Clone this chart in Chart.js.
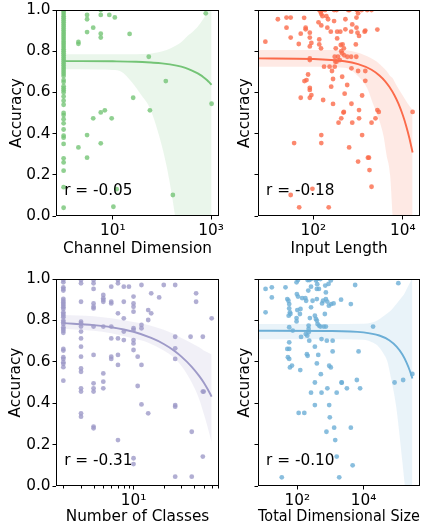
<!DOCTYPE html>
<html lang="en">
<head>
<meta charset="UTF-8" />
<title>Accuracy vs dataset properties</title>
<script src="https://cdn.jsdelivr.net/npm/chart.js"></script>
<style>
  body { margin: 0; background: #fff; }
  #fig { position: relative; width: 426px; height: 524px; background: #fff; }
  canvas { position: absolute; }
</style>
</head>
<body>
<div id="fig">
  <canvas id="c1" width="224" height="262" style="left:0;top:0;width:224px;height:262px"></canvas>
  <canvas id="c2" width="202" height="262" style="left:224px;top:0;width:202px;height:262px"></canvas>
  <canvas id="c3" width="224" height="262" style="left:0;top:262px;width:224px;height:262px"></canvas>
  <canvas id="c4" width="202" height="262" style="left:224px;top:262px;width:202px;height:262px"></canvas>
</div>
<script>
// ---- data ----
const yTicks = [0, 0.2, 0.4, 0.6, 0.8, 1.0];

// Channel Dimension
const channelPts = [
  [1,1.0],[1,0.99],[1,0.98],[1,0.97],[1,0.96],[1,0.95],[1,0.94],[1,0.93],[1,0.92],[1,0.91],[1,0.90],
  [1,0.89],[1,0.88],[1,0.87],[1,0.86],[1,0.85],[1,0.84],[1,0.83],[1,0.82],[1,0.81],[1,0.80],[1,0.79],
  [1,0.78],[1,0.77],[1,0.76],[1,0.75],[1,0.74],[1,0.73],[1,0.72],[1,0.71],[1,0.70],[1,0.69],[1,0.68],
  [1,0.66],[1,0.65],[1,0.63],[1,0.62],[1,0.61],[1,0.60],[1,0.58],[1,0.56],[1,0.54],[1,0.50],[1,0.49],
  [1,0.47],[1,0.45],[1,0.42],[1,0.39],[1,0.38],[1,0.35],[1,0.28],[1,0.26],[1,0.22],[1,0.14],[1,0.04],
  [3,0.976],[3,0.955],[4,0.914],[3,0.893],[2,0.845],[2,0.836],[5.7,1.0],[5.7,0.976],[8.5,0.976],
  [11,0.964],[5.7,0.885],[5.7,0.866],[22,0.884],[54,0.773],[120,0.655],[26,0.574],[57,0.513],
  [4,0.474],[5.7,0.503],[6.9,0.513],[9.5,0.474],[3,0.393],[2,0.333],[3,0.283],[5.7,0.353],
  [12,0.13],[10.3,0.045],[167,0.102],[780,0.984],[1024,0.545]
];
const channelFitX = [1, 10, 30, 60, 100, 200, 300, 400, 500, 600, 700, 800, 900, 1024];
const channelFitY = [0.752, 0.751, 0.749, 0.745, 0.741, 0.730, 0.719, 0.707, 0.696, 0.685, 0.674, 0.663, 0.651, 0.637];
const channelBandX = [1, 5, 10, 15, 24, 38, 57, 85, 125, 185, 250, 320, 450, 600, 880, 1024];
const channelBandHi = [0.785, 0.785, 0.785, 0.785, 0.785, 0.786, 0.788, 0.795, 0.806, 0.825, 0.845, 0.87, 0.90, 0.935, 1.0, 1.04];
const channelBandLo = [0.712, 0.711, 0.709, 0.70, 0.652, 0.587, 0.523, 0.40, 0.24, 0.0, -0.27, -0.55, -1.05, -1.6, -2.7, -3.2];

// Input Length
const lengthPts = [
  [8.4,0.846],[16,0.955],[25,0.963],[31,0.963],[25,0.914],[31,0.866],[47,0.835],[52,0.885],[62,0.962],
  [67,0.914],[67,0.906],[83,0.89],[83,0.866],[83,0.823],[90,0.84],[135,0.857],[135,0.833],[148,0.814],
  [135,1.0],[145,0.99],[155,1.0],[150,0.98],[160,0.97],[130,0.94],[150,0.925],[182,1.0],[195,0.97],
  [213,0.955],[205,0.914],[245,0.895],[290,1.0],[330,1.0],[290,0.946],[340,0.895],[400,0.895],[340,0.862],
  [316,0.814],[410,0.83],[450,0.833],[480,0.814],[420,0.80],[440,0.79],[520,0.955],[520,0.906],[600,1.0],
  [640,1.0],[700,0.895],[740,0.93],[920,0.963],[1000,0.984],[920,0.914],[930,1.0],[1200,1.0],[1600,1.0],
  [2000,1.0],[970,0.89],[1050,0.874],[1400,0.895],[1450,0.90],[2700,0.905],[890,0.833],
  [300,0.773],[355,0.773],[490,0.78],[575,0.773],[700,0.773],[910,0.773],[83,0.765],[83,0.757],
  [310,0.749],[230,0.725],[300,0.725],[260,0.704],[173,0.725],[330,0.749],[390,0.757],[710,0.717],
  [1000,0.704],[1450,0.704],[76,0.687],[70,0.66],[63,0.655],[275,0.665],[440,0.676],[250,0.628],
  [83,0.622],[83,0.612],[90,0.587],[570,0.636],[500,0.594],[1230,0.585],[1450,0.656],[52,0.574],
  [83,0.574],[165,0.563],[275,0.544],[710,0.545],[480,0.505],[1050,0.514],[2700,0.514],[2900,0.505],
  [16600,0.505],[470,0.502],[420,0.474],[365,0.453],[1050,0.474],[740,0.453],[2000,0.453],[2450,0.474],
  [1230,0.393],[150,0.393],[150,0.354],[37,0.354],[630,0.333],[1000,0.264],[1660,0.283],[1750,0.283],
  [1800,0.223],[2000,0.142],[31,0.102],[95,0.132],[48,0.042],[220,0.042]
];
const lengthFitX = [5.75, 100, 500, 1000, 2000, 3000, 4000, 5000, 6500, 8000, 10000, 12000, 14000, 16600];
const lengthFitY = [0.765, 0.762, 0.751, 0.737, 0.71, 0.682, 0.655, 0.627, 0.586, 0.545, 0.49, 0.435, 0.38, 0.308];
const lengthBandX = [5.75, 100, 500, 1100, 1600, 2200, 2600, 3700, 4300, 5200, 5900, 7000, 10300, 13000, 16600];
const lengthBandHi = [0.806, 0.806, 0.805, 0.79, 0.775, 0.76, 0.75, 0.72, 0.705, 0.68, 0.67, 0.64, 0.58, 0.545, 0.515];
const lengthBandLo = [0.725, 0.725, 0.72, 0.67, 0.62, 0.54, 0.5, 0.39, 0.3, 0.2, 0.0, -0.35, -1.2, -1.8, -2.5];

// Number of Classes
const classPts = [
  [2,0.995],[2,0.984],[2,0.96],[2,0.952],[2,0.944],[2,0.904],[2,0.895],[2,0.887],[2,0.879],[2,0.871],
  [2,0.863],[2,0.855],[2,0.839],[2,0.831],[2,0.823],[2,0.815],[2,0.799],[2,0.791],[2,0.783],[2,0.767],
  [2,0.759],[2,0.75],[2,0.74],[2,0.662],[2,0.654],[2,0.622],[2,0.614],[2,0.598],[2,0.59],[2,0.574],[2,0.509],
  [3,0.995],[3,0.979],[3,0.89],[3,0.794],[3,0.786],[3,0.77],[3,0.746],[3,0.713],[3,0.673],[3,0.625],
  [3,0.568],[3,0.552],[3,0.472],[3,0.456],[3,0.351],[3,0.335],
  [4,0.995],[4,0.979],[4,0.952],[4,0.882],[4,0.866],[4,0.858],[4,0.77],[4,0.633],[4,0.496],[4,0.472],
  [4,0.456],[4,0.287],[4,0.279],
  [5,0.923],[5,0.907],[5,0.899],[5,0.89],[5,0.77],[5,0.544],[5,0.504],[5,0.472],
  [6,0.963],[6,0.89],[6,0.882],[6,0.77],[6,0.713],[6,0.625],[6,0.614],
  [7,0.995],[7,0.979],[7,0.834],[7,0.713],[7,0.633],[7,0.585],[7,0.222],
  [8,0.963],[8,0.89],[8,0.81],[8,0.746],[8,0.705],[9,0.963],
  [10,0.915],[10,0.882],[10,0.866],[10,0.842],[10,0.762],[10,0.754],[10,0.705],[10,0.689],[10,0.657],
  [10,0.134],[10,0.106],[11,0.625],[11,0.483],[12,0.971],[12,0.778],[12,0.762],[12,0.585],[12,0.394],
  [14,0.85],[14,0.802],[14,0.351],[15,0.931],[15,0.834],[18,0.911],[20,0.971],
  [26,0.971],[26,0.721],[26,0.665],[26,0.614],[26,0.391],[26,0.383],[26,0.045],[37,0.721],
  [38,0.262],[38,0.045],[42,0.931],[42,0.89],[49,0.721],[49,0.456],[49,0.142],[50,0.456],[60,0.81]
];
const classFitX = [2, 4, 6, 10, 15, 20, 26, 30, 38, 45, 50, 55, 60];
const classFitY = [0.787, 0.777, 0.767, 0.745, 0.715, 0.686, 0.650, 0.625, 0.576, 0.532, 0.50, 0.466, 0.432];
const classBandX = [2, 4, 6, 10, 14, 20, 25, 30, 38, 45, 50, 55, 60];
const classBandHi = [0.826, 0.82, 0.81, 0.792, 0.778, 0.755, 0.735, 0.715, 0.69, 0.67, 0.655, 0.645, 0.635];
const classBandLo = [0.76, 0.75, 0.738, 0.712, 0.692, 0.655, 0.622, 0.58, 0.5, 0.42, 0.35, 0.28, 0.21];
const classMinor = [2, 3, 4, 5, 6, 7, 8, 9, 20, 30, 40, 50, 60, 70];

// Total Dimensional Size
const sizePts = [
  [11,0.839],[11,0.952],[17,0.96],[17,0.911],[44,0.96],[50,0.903],[54,0.895],[57,0.879],[57,0.858],
  [60,0.839],[55,0.823],[62,0.831],[95,0.984],[105,0.995],[97,0.927],[105,0.915],[140,0.908],[175,0.908],
  [185,0.895],[95,0.811],[95,0.795],[100,0.85],[125,0.855],[120,0.831],[205,0.995],[230,0.995],[260,1.0],
  [260,0.963],[215,0.944],[260,0.863],[365,0.993],[400,1.0],[500,1.0],[390,0.952],[450,0.952],[400,0.975],
  [290,0.895],[390,0.903],[730,0.935],[880,0.976],[1030,0.993],[700,0.968],[600,0.895],[730,0.903],
  [800,0.891],[1050,0.879],[1250,0.882],[560,0.882],[900,0.871],[2100,0.9],[4150,0.879],[5600,0.971],
  [113000,0.98],[680,0.831],[340,0.823],[365,0.807],[390,0.799],[240,0.811],[410,0.783],[450,0.775],
  [500,0.77],[630,0.77],[730,0.77],[220,0.775],[220,0.759],[220,0.743],[180,0.734],[200,0.726],[230,0.702],
  [130,0.72],[57,0.767],[73,0.751],[57,0.694],[57,0.662],[52,0.622],[57,0.614],[60,0.573],[50,0.662],
  [69,0.582],[123,0.56],[195,0.637],[205,0.629],[340,0.673],[430,0.633],[390,0.592],[540,0.71],[780,0.702],
  [1170,0.702],[1170,0.65],[515,0.54],[920,0.581],[1030,0.573],[340,0.5],[2180,0.5],[6300,0.512],
  [7100,0.65],[19500,0.77],[87000,0.5],[158000,0.512],[300000,0.541],[260,0.451],[540,0.451],[810,0.472],
  [1550,0.451],[2200,0.499],[3150,0.472],[7900,0.472],[340,0.391],[920,0.391],[110,0.353],[163,0.353],
  [960,0.332],[1300,0.282],[4150,0.282],[760,0.262],[1400,0.222],[1550,0.142],[4700,0.1],[1850,0.042],[34,0.042]
];
const sizeFitX = [6.5, 1000, 10000, 30000, 60000, 100000, 150000, 200000, 250000, 300000];
const sizeFitY = [0.75, 0.749, 0.742, 0.727, 0.704, 0.673, 0.635, 0.596, 0.558, 0.519];
const sizeBandX = [6.5, 1000, 10000, 18000, 26000, 40000, 53000, 66000, 83000, 100000, 118000, 140000, 170000, 200000, 240000, 270000, 300000];
const sizeBandHi = [0.783, 0.783, 0.784, 0.79, 0.80, 0.82, 0.835, 0.847, 0.865, 0.88, 0.895, 0.91, 0.927, 0.95, 0.975, 0.99, 1.02];
const sizeBandLo = [0.709, 0.709, 0.706, 0.695, 0.68, 0.64, 0.6, 0.53, 0.45, 0.37, 0.27, 0.16, 0.03, -0.1, -0.3, -0.45, -0.6];

// ---- drawing ----
Chart.defaults.font.family = 'DejaVu Sans';
Chart.defaults.color = '#000';
const FONT = { family: 'DejaVu Sans', size: 15.3 };
const SUP = { 0: '\u2070', 1: '\u00b9', 2: '\u00b2', 3: '\u00b3', 4: '\u2074', 5: '\u2075' };

const xy = (xs, ys) => xs.map((x, i) => ({ x: x, y: ys[i] }));

const framePlugin = {
  id: 'frame',
  afterDatasetsDraw(chart, args, opts) {
    const { ctx, chartArea: a } = chart;
    const xs = chart.scales.x;
    ctx.save();
    ctx.strokeStyle = '#000';
    ctx.lineWidth = 1;
    ctx.strokeRect(a.left + 0.5, a.top + 0.5, a.right - a.left - 1, a.bottom - a.top - 1);
    // minor ticks
    (opts.minor || []).forEach(v => {
      const px = Math.round(xs.getPixelForValue(v)) + 0.5;
      ctx.beginPath();
      ctx.moveTo(px, a.bottom);
      ctx.lineTo(px, a.bottom + 2.5);
      ctx.stroke();
    });
    // correlation note
    ctx.fillStyle = '#000';
    ctx.font = '15.3px "DejaVu Sans"';
    ctx.textBaseline = 'alphabetic';
    ctx.textAlign = 'left';
    ctx.fillText(opts.note, a.left + 0.05 * (a.right - a.left), a.bottom - 0.1 * (a.bottom - a.top));
    ctx.restore();
  }
};

function panel(p) {
  const w = p.canvasW, h = 262;
  new Chart(document.getElementById(p.id), {
    type: 'scatter',
    data: {
      datasets: [
        { type: 'line', data: xy(p.fitX, p.fitY), borderColor: 'rgb(' + p.rgb + ')', borderWidth: 1.9,
          pointRadius: 0, fill: false, cubicInterpolationMode: 'monotone' },
        { type: 'line', data: xy(p.bandX, p.bandHi), borderColor: 'transparent', borderWidth: 0,
          pointRadius: 0, fill: false, cubicInterpolationMode: 'monotone' },
        { type: 'line', data: xy(p.bandX, p.bandLo), borderColor: 'transparent', borderWidth: 0,
          pointRadius: 0, fill: '-1', backgroundColor: 'rgba(' + p.rgb + ',0.15)', cubicInterpolationMode: 'monotone' },
        { data: p.pts.map(d => ({ x: d[0], y: d[1] })), pointRadius: 2.4, pointHoverRadius: 2.4,
          backgroundColor: 'rgba(' + p.rgb + ',0.8)', borderWidth: 0, clip: 0 }
      ]
    },
    options: {
      responsive: false,
      animation: false,
      devicePixelRatio: 1,
      events: [],
      layout: { padding: { left: 0, top: p.top, right: w - p.right, bottom: 0 } },
      plugins: {
        legend: { display: false },
        tooltip: { enabled: false },
        frame: { note: p.note, minor: p.minor }
      },
      scales: {
        x: {
          type: 'logarithmic', min: p.xmin, max: p.xmax,
          afterBuildTicks: s => { s.ticks = p.majors.map(v => ({ value: v })); },
          afterFit: s => { s.height = h - p.bottom; s.paddingLeft = 0; s.paddingRight = 0; },
          ticks: { font: FONT, color: '#000', padding: 2, maxRotation: 0, autoSkip: false,
                   callback: v => '10' + SUP[Math.round(Math.log10(v))] },
          grid: { drawOnChartArea: false, drawTicks: true, tickLength: 3.5, color: '#000', tickColor: '#000' },
          border: { display: false },
          title: { display: true, text: p.xTitle, font: FONT, color: '#000', padding: { top: 0, bottom: p.xTitlePad } }
        },
        y: {
          min: 0, max: 1,
          afterBuildTicks: s => { s.ticks = yTicks.map(v => ({ value: v })); },
          afterFit: s => { s.width = p.left; s.paddingTop = 0; s.paddingBottom = 0; },
          ticks: { display: p.yLabels, font: FONT, color: '#000', padding: 2, callback: v => v.toFixed(1) },
          grid: { drawOnChartArea: false, drawTicks: true, tickLength: 3.5, color: '#000', tickColor: '#000' },
          border: { display: false },
          title: { display: true, text: 'Accuracy', font: FONT, color: '#000', padding: { top: p.yTitlePad, bottom: 0 } }
        }
      }
    },
    plugins: [framePlugin]
  });
}

panel({ id: 'c1', canvasW: 224, left: 56, right: 219, top: 10, bottom: 216,
  pts: channelPts, fitX: channelFitX, fitY: channelFitY, bandX: channelBandX, bandHi: channelBandHi, bandLo: channelBandLo,
  rgb: '116,196,118', xmin: 0.707, xmax: 1450, majors: [10, 1000], xTitle: 'Channel Dimension',
  note: 'r = -0.05', yLabels: true, yTitlePad: 7.8, xTitlePad: 4 });

panel({ id: 'c2', canvasW: 202, left: 34, right: 196, top: 10, bottom: 216,
  pts: lengthPts, fitX: lengthFitX, fitY: lengthFitY, bandX: lengthBandX, bandHi: lengthBandHi, bandLo: lengthBandLo,
  rgb: '251,106,74', xmin: 5.75, xmax: 24300, majors: [100, 10000], xTitle: 'Input Length',
  note: 'r = -0.18', yLabels: false, yTitlePad: 11.8, xTitlePad: 4 });

panel({ id: 'c3', canvasW: 224, left: 56, right: 219, top: 17, bottom: 224,
  pts: classPts, fitX: classFitX, fitY: classFitY, bandX: classBandX, bandHi: classBandHi, bandLo: classBandLo,
  rgb: '158,154,200', xmin: 1.69, xmax: 71, majors: [10], minor: classMinor, xTitle: 'Number of Classes',
  note: 'r = -0.31', yLabels: true, yTitlePad: 6.8, xTitlePad: -2.5 });

panel({ id: 'c4', canvasW: 202, left: 34, right: 196, top: 17, bottom: 224,
  pts: sizePts, fitX: sizeFitX, fitY: sizeFitY, bandX: sizeBandX, bandHi: sizeBandHi, bandLo: sizeBandLo,
  rgb: '107,174,214', xmin: 6.5, xmax: 510000, majors: [100, 10000], xTitle: 'Total Dimensional Size',
  note: 'r = -0.10', yLabels: false, yTitlePad: 11.8, xTitlePad: -2.5 });
</script>
</body>
</html>
